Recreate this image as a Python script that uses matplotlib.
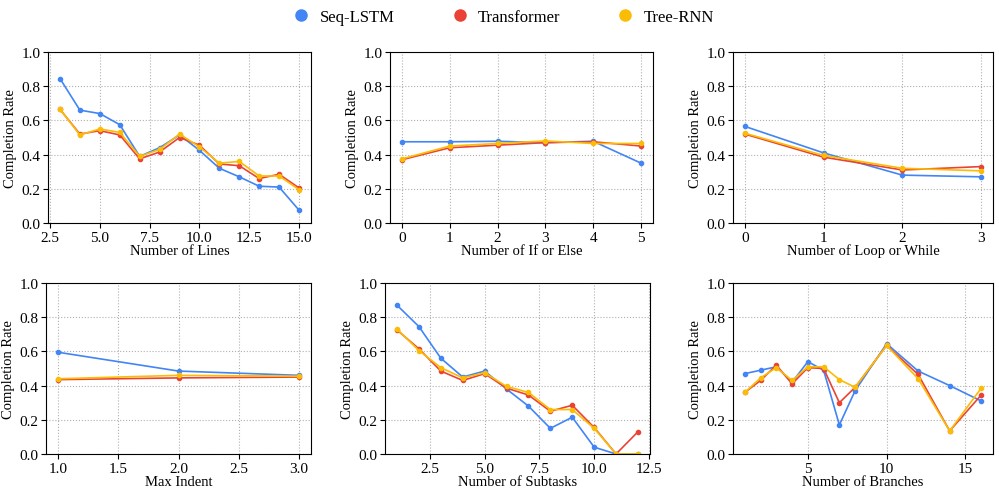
import numpy as np
import matplotlib.pyplot as plt
from matplotlib.lines import Line2D

plt.rcParams['font.family'] = ['Liberation Serif', 'DejaVu Serif']

models = ["Seq-LSTM", "Transformer", "Tree-RNN"]
colors = ["#4285F4", "#EA4335", "#FBBC05"]

# Number of Lines
lines_x = [3, 4, 5, 6, 7, 8, 9, 10, 11, 12, 13, 14, 15]
lines_seq = [0.845, 0.66, 0.64, 0.575, 0.39, 0.44, 0.515, 0.425, 0.32, 0.27, 0.215, 0.21, 0.075]
lines_trans = [0.665, 0.52, 0.54, 0.515, 0.375, 0.415, 0.50, 0.455, 0.345, 0.335, 0.26, 0.285, 0.205]
lines_tree = [0.665, 0.515, 0.55, 0.53, 0.39, 0.43, 0.52, 0.445, 0.35, 0.36, 0.275, 0.275, 0.195]

# Number of If or Else
if_x = [0, 1, 2, 3, 4, 5]
if_seq = [0.475, 0.475, 0.478, 0.47, 0.478, 0.35]
if_trans = [0.37, 0.44, 0.455, 0.47, 0.475, 0.45]
if_tree = [0.375, 0.45, 0.465, 0.48, 0.465, 0.465]

# Number of Loop or While
loop_x = [0, 1, 2, 3]
loop_seq = [0.565, 0.41, 0.28, 0.27]
loop_trans = [0.52, 0.385, 0.31, 0.33]
loop_tree = [0.525, 0.395, 0.32, 0.305]

# Max Indent
indent_x = [1, 2, 3]
indent_seq = [0.595, 0.485, 0.46]
indent_trans = [0.435, 0.445, 0.45]
indent_tree = [0.44, 0.46, 0.455]

# Number of Subtasks
sub_x = [1, 2, 3, 4, 5, 6, 7, 8, 9, 10, 11, 12]
sub_seq = [0.87, 0.745, 0.56, 0.45, 0.485, 0.38, 0.28, 0.15, 0.215, 0.04, 0.0, 0.0]
sub_trans = [0.725, 0.615, 0.485, 0.43, 0.47, 0.385, 0.345, 0.25, 0.285, 0.155, 0.0, 0.13]
sub_tree = [0.73, 0.605, 0.505, 0.445, 0.475, 0.395, 0.36, 0.26, 0.26, 0.15, 0.0, 0.0]

# Number of Branches
br_x = [1, 2, 3, 4, 5, 6, 7, 8, 10, 12, 14, 16]
br_seq = [0.47, 0.49, 0.51, 0.42, 0.54, 0.49, 0.17, 0.37, 0.645, 0.485, 0.40, 0.31]
br_trans = [0.36, 0.43, 0.52, 0.41, 0.505, 0.50, 0.30, 0.39, 0.635, 0.465, 0.135, 0.345]
br_tree = [0.36, 0.445, 0.505, 0.43, 0.51, 0.51, 0.435, 0.39, 0.635, 0.44, 0.135, 0.385]

# x tick values shown under each panel
lines_ticks = [2.5, 5.0, 7.5, 10.0, 12.5, 15.0]
if_ticks = [0, 1, 2, 3, 4, 5]
loop_ticks = [0, 1, 2, 3]
indent_ticks = [1.0, 1.5, 2.0, 2.5, 3.0]
sub_ticks = [2.5, 5.0, 7.5, 10.0, 12.5]
br_ticks = [5, 10, 15]

panels = [
    ("Number of Lines", lines_x, [lines_seq, lines_trans, lines_tree], lines_ticks, "%.1f"),
    ("Number of If or Else", if_x, [if_seq, if_trans, if_tree], if_ticks, "%d"),
    ("Number of Loop or While", loop_x, [loop_seq, loop_trans, loop_tree], loop_ticks, "%d"),
    ("Max Indent", indent_x, [indent_seq, indent_trans, indent_tree], indent_ticks, "%.1f"),
    ("Number of Subtasks", sub_x, [sub_seq, sub_trans, sub_tree], sub_ticks, "%.1f"),
    ("Number of Branches", br_x, [br_seq, br_trans, br_tree], br_ticks, "%d"),
]

W, H = 999, 489
fig = plt.figure(figsize=(W / 100, H / 100), dpi=100)

# axes boxes in pixels: left, right, top, bottom
boxes = [
    (48, 311, 53, 224), (390, 653, 53, 224), (733, 993, 53, 224),
    (46, 311, 284, 455), (385, 650, 284, 455), (733, 993, 284, 455),
]

for (xlabel, x, ys, xt, fmt), (l, r, t, b) in zip(panels, boxes):
    ax = fig.add_axes([l / W, 1 - b / H, (r - l) / W, (b - t) / H])
    for y, c, m in zip(ys, colors, models):
        ax.plot(x, y, color=c, marker='o', markersize=3, linewidth=1.2, label=m)
    ax.set_ylim(0, 1.0)
    ax.set_yticks([0.0, 0.2, 0.4, 0.6, 0.8, 1.0])
    ax.set_xticks(xt)
    ax.set_xticklabels([fmt % v for v in xt])
    ax.set_xlabel(xlabel, fontsize=10.5, labelpad=0)
    ax.set_ylabel("Completion Rate", fontsize=10.5, labelpad=3)
    ax.tick_params(axis='both', labelsize=11, pad=2)
    ax.grid(True, linestyle=':', color='#b0b0b0', linewidth=0.8)
    for s in ax.spines.values():
        s.set_linewidth(0.8)

handles = [Line2D([], [], color=c, marker='o', linestyle='none', markersize=8) for c in colors]
fig.legend(handles, models, loc='upper center', bbox_to_anchor=(0.5, 1.01), ncol=3,
           frameon=False, fontsize=12, handletextpad=0.1, columnspacing=2.9)

fig.savefig("out.png", dpi=100)
